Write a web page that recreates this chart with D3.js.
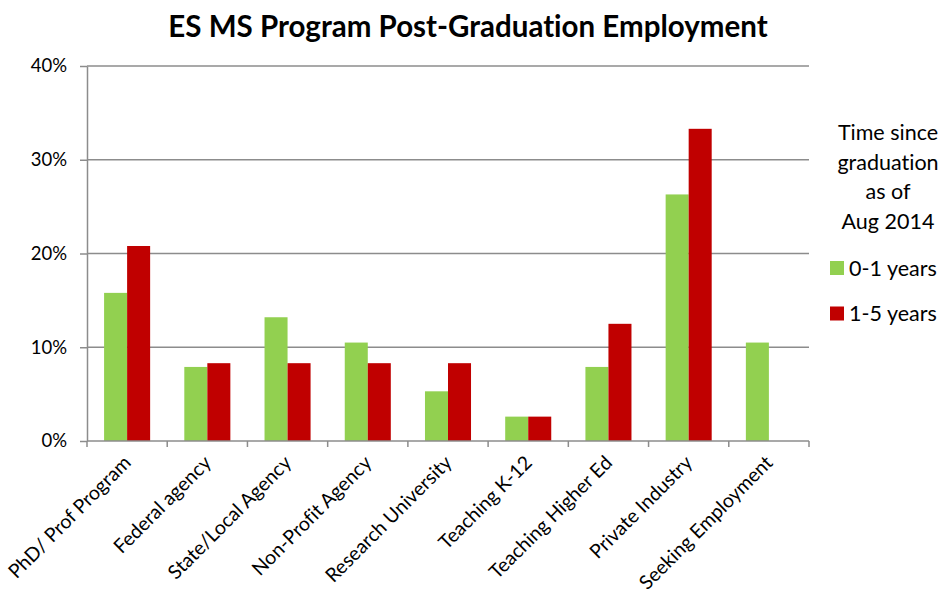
<!DOCTYPE html>
<html>
<head>
<meta charset="utf-8">
<script src="https://cdn.jsdelivr.net/npm/d3@7"></script>
<style>
  body { margin: 0; background: #fff; }
  text { font-family: Lato, "Open Sans", sans-serif; fill: #000; font-variant-ligatures: none; }
</style>
</head>
<body>
<svg></svg>
<script>
// sizes
var width = 942;
var height = 594;
var margin = {top: 66, right: 133, bottom: 153, left: 87};

// data
var categories = ["PhD/ Prof Program", "Federal agency", "State/Local Agency", "Non-Profit Agency",
  "Research University", "Teaching K-12", "Teaching Higher Ed", "Private Industry", "Seeking Employment"];
var seriesNames = ["0-1 years", "1-5 years"];
var recent = [15.8, 7.9, 13.2, 10.5, 5.3, 2.6, 7.9, 26.3, 10.5];
var earlier = [20.8, 8.3, 8.3, 8.3, 8.3, 2.6, 12.5, 33.3, 0];
var yTicks = [0, 10, 20, 30, 40];
var legendTitle = ["Time since", "graduation", "as of", "Aug 2014"];
var colors = ["#92D050", "#C00000"];

var svg = d3.select("svg")
  .attr("width", width)
  .attr("height", height);

var plotW = width - margin.left - margin.right;
var plotH = height - margin.top - margin.bottom;

var x = d3.scaleBand().domain(categories).range([0, plotW]).paddingInner(0).paddingOuter(0);
var x1 = d3.scaleBand().domain(seriesNames).range([x.bandwidth() * 0.213, x.bandwidth() * 0.787]);
var y = d3.scaleLinear().domain([0, 40]).range([plotH, 0]);

var g = svg.append("g").attr("transform", "translate(" + margin.left + "," + margin.top + ")");

// title
svg.append("text")
  .attr("x", 468)
  .attr("y", 37)
  .attr("text-anchor", "middle")
  .attr("font-size", 29.5)
  .attr("font-weight", "bold")
  .text("ES MS Program Post-Graduation Employment");

// gridlines
g.selectAll(".grid")
  .data(yTicks.slice(1))
  .enter()
  .append("line")
  .attr("x1", 0)
  .attr("x2", plotW)
  .attr("y1", function(d) { return y(d); })
  .attr("y2", function(d) { return y(d); })
  .attr("stroke", "#8c8c8c")
  .attr("stroke-width", 1.5);

// bars
var rows = categories.map(function(c, i) { return {cat: c, vals: [recent[i], earlier[i]]}; });
var grp = g.selectAll(".grp")
  .data(rows)
  .enter()
  .append("g")
  .attr("transform", function(d) { return "translate(" + x(d.cat) + ",0)"; });
grp.selectAll("rect")
  .data(function(d) { return d.vals.map(function(v, j) { return {s: seriesNames[j], v: v, j: j}; }); })
  .enter()
  .append("rect")
  .filter(function(d) { return d.v > 0; })
  .attr("x", function(d) { return x1(d.s); })
  .attr("width", x1.bandwidth())
  .attr("y", function(d) { return y(d.v); })
  .attr("height", function(d) { return plotH - y(d.v); })
  .attr("fill", function(d) { return colors[d.j]; });

// y axis
var yAxis = g.append("g")
  .call(d3.axisLeft(y).tickValues(yTicks).tickSize(7).tickSizeOuter(0).tickFormat(function(d) { return d + "%"; }));
yAxis.select(".domain").attr("stroke", "#8c8c8c").attr("stroke-width", 1.5);
yAxis.selectAll(".tick line").attr("stroke", "#8c8c8c").attr("stroke-width", 1.5);
yAxis.selectAll(".tick text")
  .attr("x", -20)
  .attr("font-size", 18.5)
  .attr("font-family", "Lato, sans-serif")
  .attr("fill", "#000");

// x axis
var xTickPos = d3.range(categories.length + 1).map(function(i) { return i * x.step(); });
g.append("line")
  .attr("x1", 0).attr("x2", plotW)
  .attr("y1", plotH).attr("y2", plotH)
  .attr("stroke", "#8c8c8c").attr("stroke-width", 1.5);
g.selectAll(".xtick")
  .data(xTickPos)
  .enter()
  .append("line")
  .attr("x1", function(d) { return d; })
  .attr("x2", function(d) { return d; })
  .attr("y1", plotH)
  .attr("y2", plotH + 6)
  .attr("stroke", "#8c8c8c").attr("stroke-width", 1.5);
g.selectAll(".xlab")
  .data(categories)
  .enter()
  .append("text")
  .attr("text-anchor", "end")
  .attr("font-size", 19.5)
  .attr("transform", function(d) {
    return "translate(" + (x(d) + x.bandwidth() / 2 + 5) + "," + (plotH + 23) + ") rotate(-45)";
  })
  .text(function(d) { return d; });

// legend
var lg = svg.append("g");
lg.selectAll(".lt")
  .data(legendTitle)
  .enter()
  .append("text")
  .attr("x", 888)
  .attr("y", function(d, i) { return 140 + i * 29.7; })
  .attr("text-anchor", "middle")
  .attr("font-size", 21.5)
  .text(function(d) { return d; });
var items = lg.selectAll(".li")
  .data(seriesNames)
  .enter()
  .append("g")
  .attr("transform", function(d, i) { return "translate(830," + (261 + i * 45.5) + ")"; });
items.append("rect")
  .attr("width", 14)
  .attr("height", 14)
  .attr("fill", function(d, i) { return colors[i]; });
items.append("text")
  .attr("x", 19)
  .attr("y", 14.5)
  .attr("font-size", 21.5)
  .text(function(d) { return d; });
</script>
</body>
</html>
